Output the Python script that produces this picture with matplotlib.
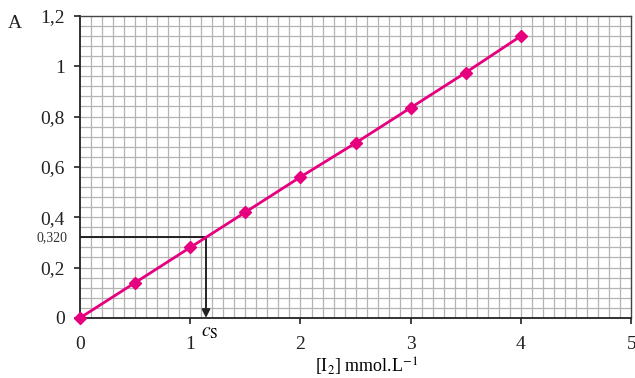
import numpy as np
import matplotlib
matplotlib.use('Agg')
import matplotlib.pyplot as plt

plt.rcParams['font.family'] = ['Liberation Serif', 'DejaVu Serif']
plt.rcParams['mathtext.fontset'] = 'stix'

# calibration data
conc = [0, 0.5, 1.0, 1.5, 2.0, 2.5, 3.0, 3.5, 4.0]
absorb = [0.0, 0.14, 0.28, 0.42, 0.56, 0.695, 0.835, 0.975, 1.12]

x_ticks = [0, 1, 2, 3, 4, 5]
x_labels = ['0', '1', '2', '3', '4', '5']
y_ticks = [0, 0.2, 0.4, 0.6, 0.8, 1.0, 1.2]
y_labels = ['0', '0,2', '0,4', '0,6', '0,8', '1', '1,2']

a_sample = 0.320
c_sample = 0.320 / 0.28

fig = plt.figure(figsize=(6.35, 3.78), dpi=100)
ax = fig.add_axes([0.126, 0.159, 0.868, 0.799])

# grey millimetre-like grid
for gx in np.arange(0.1, 5.0, 0.1):
    ax.axvline(gx, color='#b4b4b4', linewidth=0.9, zorder=0)
for gy in np.arange(0.04, 1.2, 0.04):
    ax.axhline(gy, color='#b4b4b4', linewidth=0.9, zorder=0)

# calibration line
ax.plot(conc, absorb, color='#e6007e', linewidth=2, marker='D', markersize=6,
        zorder=4, clip_on=False)

# reading of c_S
ax.plot([0, c_sample], [a_sample, a_sample], color='#222222', linewidth=1.4, zorder=3)
ax.annotate('', xy=(c_sample, 0.0), xytext=(c_sample, a_sample),
            arrowprops=dict(arrowstyle='-|>', color='#222222', lw=1.4,
                            mutation_scale=12, shrinkA=0, shrinkB=0), zorder=3)
ax.text(-0.11, a_sample, '0,320', fontsize=10, ha='right', va='center', color='#333333')
ax.text(1.18, -0.025, r'$c_{\mathrm{S}}$', fontsize=14, ha='center', va='top')

ax.set_xlim(0, 5)
ax.set_ylim(0, 1.2)
ax.set_xticks(x_ticks)
ax.set_xticklabels(x_labels)
ax.set_yticks(y_ticks)
ax.set_yticklabels(y_labels)
ax.tick_params(axis='both', direction='out', length=4, width=1.2, labelsize=14,
               colors='#222222')
ax.tick_params(axis='x', pad=9)
ax.tick_params(axis='y', pad=7)

for side in ['left', 'bottom']:
    ax.spines[side].set_color('#222222')
    ax.spines[side].set_linewidth(1.3)
for side in ['top', 'right']:
    ax.spines[side].set_color('#444444')
    ax.spines[side].set_linewidth(1.0)

ax.set_xlabel(r'[I$_2$] mmol.L$^{-1}$', fontsize=13)
ax.xaxis.set_label_coords((367 - 80) / 551, -0.125)
fig.text(0.012, 0.925, 'A', fontsize=14, color='#222222')

plt.savefig('out.png', dpi=100)
